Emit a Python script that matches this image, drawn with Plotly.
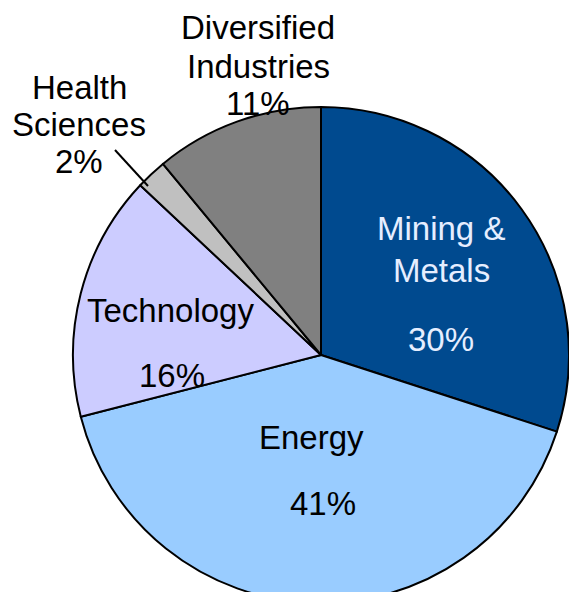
import plotly.graph_objects as go

# Sector allocation (clockwise from 12 o'clock)
sectors = ["Mining & Metals", "Energy", "Technology", "Health Sciences", "Diversified Industries"]
shares = [30, 41, 16, 2, 11]
colors = ["#004A8F", "#99CCFF", "#CCCCFF", "#C0C0C0", "#808080"]

W, H = 569, 610
FONT = "Arial, Liberation Sans, sans-serif"


def px(x, y):
    # screen pixel -> paper coords
    return x / W, 1 - y / H


fig = go.Figure(go.Pie(
    labels=sectors,
    values=shares,
    sort=False,
    direction="clockwise",
    rotation=0,
    textinfo="none",
    hoverinfo="label+percent",
    marker=dict(colors=colors, line=dict(color="black", width=2)),
    domain=dict(x=[px(73, 0)[0], px(569, 0)[0]], y=[px(0, 603)[1], px(0, 107)[1]]),
    showlegend=False,
))

# (text lines, center x of each line, y of each line, color)
labels = [
    (["Diversified", "Industries", f"{shares[4]}%"], [258, 258, 258], [28, 67, 103], "black"),
    (["Health", "Sciences", f"{shares[3]}%"], [79, 79, 79], [87, 124, 161], "black"),
    (["Mining &", "Metals", f"{shares[0]}%"], [441, 441, 441], [228, 270, 340], "#E6EEFF"),
    (["Energy", f"{shares[1]}%"], [311, 323], [437, 503], "black"),
    (["Technology", f"{shares[2]}%"], [170, 172], [310, 375], "black"),
]

for lines, xs, ys, col in labels:
    for txt, cx, cy in zip(lines, xs, ys):
        x, y = px(cx, cy)
        fig.add_annotation(
            text=txt, x=x, y=y, xref="paper", yref="paper",
            xanchor="center", yanchor="middle", showarrow=False,
            font=dict(family=FONT, size=33, color=col),
        )

# leader line for Health Sciences
x0, y0 = px(115, 150)
x1, y1 = px(148, 186)
fig.add_shape(type="line", xref="paper", yref="paper", x0=x0, y0=y0, x1=x1, y1=y1,
              line=dict(color="black", width=2))

fig.update_layout(
    width=W, height=H,
    margin=dict(l=0, r=0, t=0, b=0),
    paper_bgcolor="white",
    plot_bgcolor="white",
)

# pie runs off the bottom edge like the original, so drop page margin/scrollbars
fig.write_html("out.html",
               config={"displayModeBar": False},
               post_script="document.body.style.margin='0';document.body.style.overflow='hidden';")
